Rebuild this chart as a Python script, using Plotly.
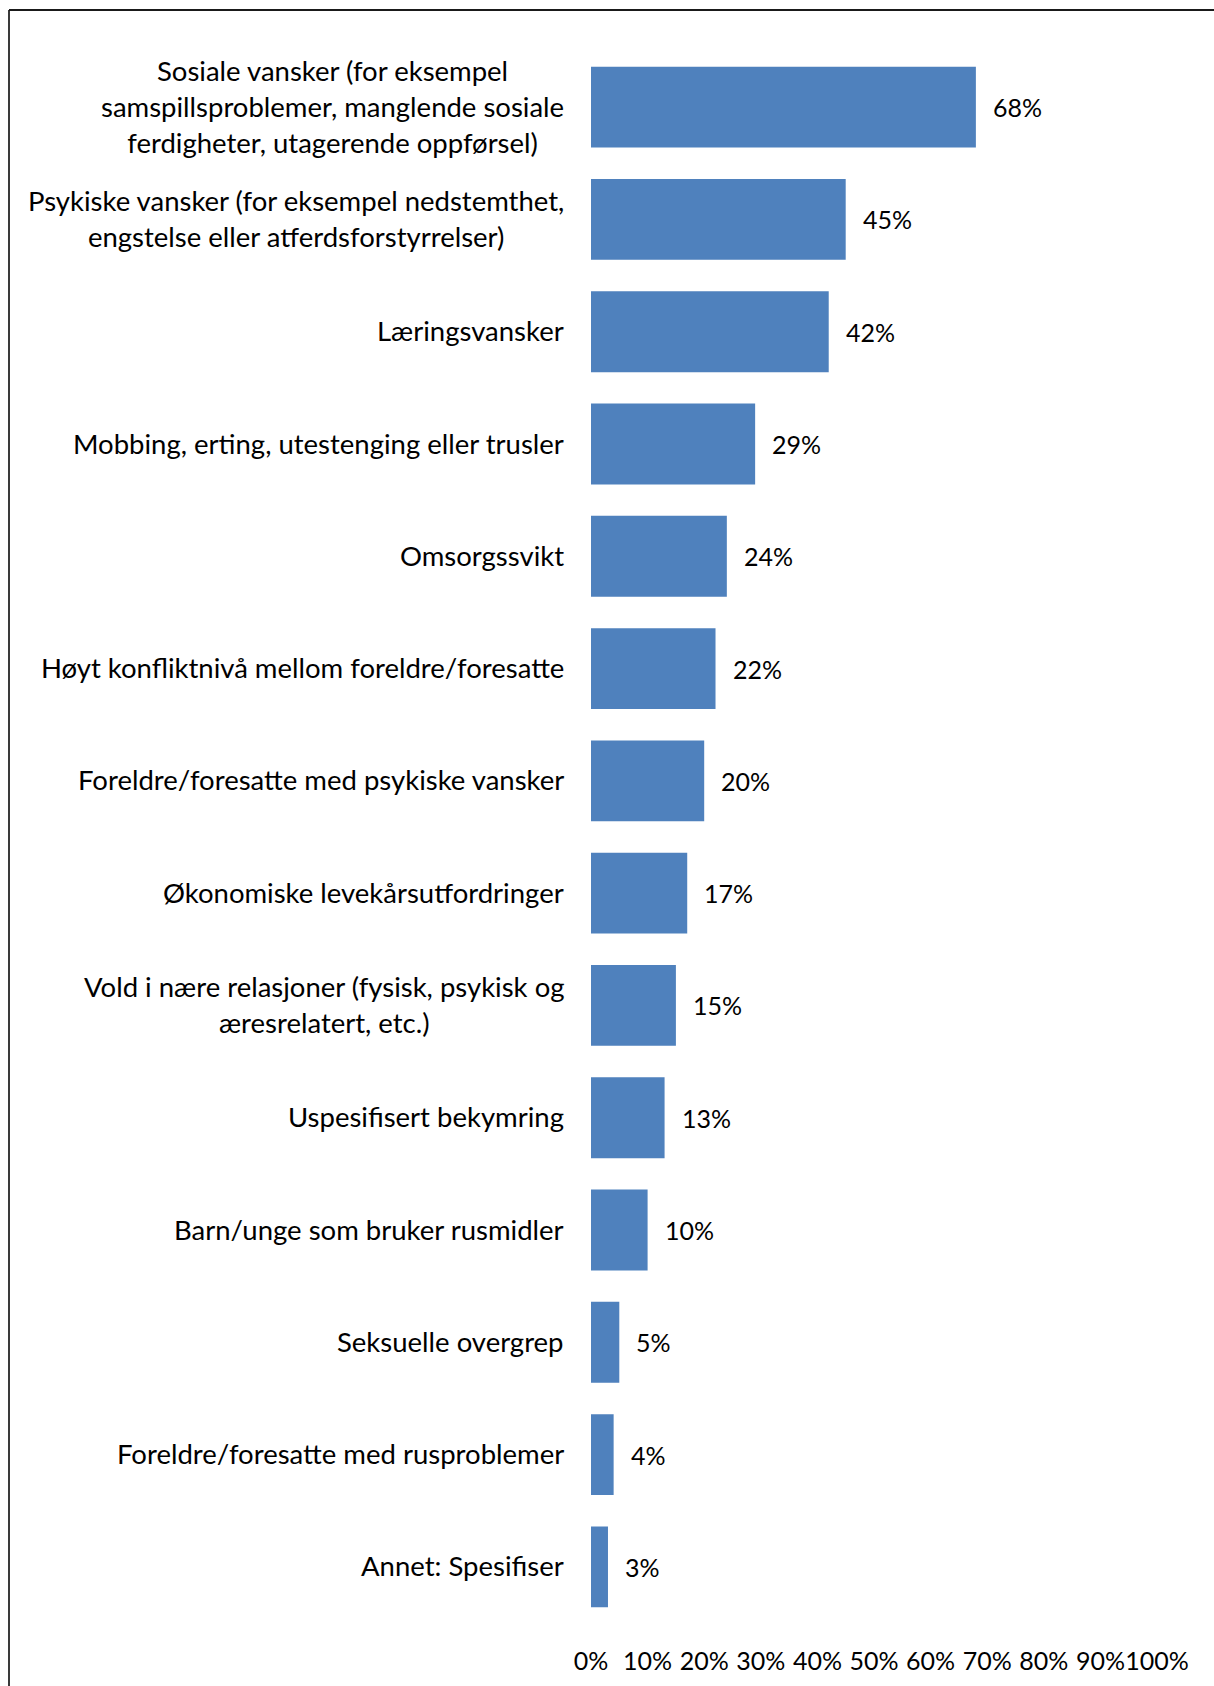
import plotly.graph_objects as go

categories = [
    "Sosiale vansker (for eksempel<br>samspillsproblemer, manglende sosiale<br>ferdigheter, utagerende oppførsel)",
    "Psykiske vansker (for eksempel nedstemthet,<br>engstelse eller atferdsforstyrrelser)",
    "Læringsvansker",
    "Mobbing, erting, utestenging eller trusler",
    "Omsorgssvikt",
    "Høyt konfliktnivå mellom foreldre/foresatte",
    "Foreldre/foresatte med psykiske vansker",
    "Økonomiske levekårsutfordringer",
    "Vold i nære relasjoner (fysisk, psykisk og<br>æresrelatert, etc.)",
    "Uspesifisert bekymring",
    "Barn/unge som bruker rusmidler",
    "Seksuelle overgrep",
    "Foreldre/foresatte med rusproblemer",
    "Annet: Spesifiser",
]
values = [68, 45, 42, 29, 24, 22, 20, 17, 15, 13, 10, 5, 4, 3]
tick_values = [0, 10, 20, 30, 40, 50, 60, 70, 80, 90, 100]
tick_labels = [f"{v}%" for v in tick_values]

W, H = 1214, 1686
ML, MR, MT, MB = 591, 57, 51, 63
FONT = "Lato, Carlito, Calibri, sans-serif"
FS_CAT = 27.5
FS_NUM = 25

ids = list(range(len(categories)))

fig = go.Figure(
    go.Bar(
        x=values,
        y=ids,
        orientation="h",
        marker=dict(color="#4F81BD", line=dict(width=0)),
        hoverinfo="skip",
    )
)

annotations = []
for i, (cat, v) in enumerate(zip(categories, values)):
    annotations.append(dict(
        x=0, y=i, xref="x", yref="y", text=cat, showarrow=False,
        xanchor="right", yanchor="middle", align="center", xshift=-25,
        yshift=1,
        font=dict(family=FONT, size=FS_CAT, color="black"),
    ))
    annotations.append(dict(
        x=v, y=i, xref="x", yref="y", text=f"{v}%", showarrow=False,
        xanchor="left", yanchor="middle", xshift=15,
        font=dict(family=FONT, size=FS_NUM, color="black"),
    ))

# frame lines along the left and top edges of the page
pw = W - ML - MR
ph = H - MT - MB
def px_to_paper_x(px):
    return (px - ML) / pw
def px_to_paper_y(py):
    return (H - MB - py) / ph

shapes = [
    dict(type="line", xref="paper", yref="paper",
         x0=px_to_paper_x(9), x1=px_to_paper_x(9),
         y0=px_to_paper_y(10), y1=px_to_paper_y(H + 5),
         line=dict(color="#3a3a3a", width=2)),
    dict(type="line", xref="paper", yref="paper",
         x0=px_to_paper_x(9), x1=px_to_paper_x(W + 5),
         y0=px_to_paper_y(10), y1=px_to_paper_y(10),
         line=dict(color="#1a1a1a", width=2)),
]

fig.update_layout(
    width=W, height=H,
    margin=dict(l=ML, r=MR, t=MT, b=MB, autoexpand=False),
    paper_bgcolor="white", plot_bgcolor="white",
    bargap=0.28,
    showlegend=False,
    annotations=annotations,
    shapes=shapes,
    xaxis=dict(
        range=[0, 100], tickvals=tick_values, ticktext=tick_labels,
        showgrid=False, zeroline=False, showline=False, ticks="",
        tickangle=0, automargin=False,
        ticklabelstandoff=21,
        tickfont=dict(family=FONT, size=FS_NUM, color="black"),
        fixedrange=True,
    ),
    yaxis=dict(
        range=[len(categories) - 0.5, -0.5], automargin=False,
        showticklabels=False, showgrid=False, zeroline=False,
        showline=False, ticks="", fixedrange=True,
    ),
)

fig.write_html("out.html")
